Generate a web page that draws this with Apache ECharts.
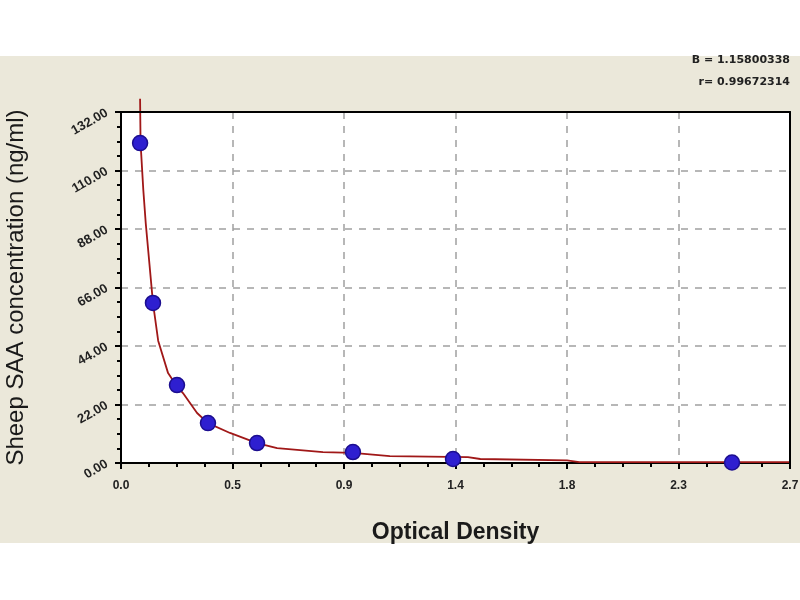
<!DOCTYPE html>
<html>
<head>
<meta charset="utf-8">
<script src="https://cdn.jsdelivr.net/npm/echarts@6/dist/echarts.min.js"></script>
<style>
html,body{margin:0;padding:0;background:#fff;}
#band{position:absolute;left:0;top:56px;width:800px;height:487px;background:#ebe8da;}
#chart{position:absolute;left:0;top:0;width:800px;height:600px;}
</style>
</head>
<body>
<div id="band"></div>
<div id="chart"></div>
<script>
// Standard points (optical density, concentration)
const stdOD = [0.077, 0.129, 0.226, 0.351, 0.549, 0.936, 1.340, 2.466];
const stdConc = [120.3, 60.2, 29.3, 15.0, 7.5, 4.1, 1.5, 0.2];

// Fitted curve
const curveOD = [0.077, 0.079, 0.09, 0.10, 0.129, 0.15, 0.19, 0.226, 0.25, 0.307, 0.351, 0.44, 0.549, 0.63, 0.815, 0.936, 1.085, 1.40, 1.45, 1.80, 1.85, 2.70];
const curveConc = [137, 120.3, 102.7, 90, 60.2, 46, 33.8, 28.8, 26.3, 18.8, 15.0, 11.3, 7.5, 5.6, 4.1, 3.8, 2.6, 2.2, 1.5, 1.0, 0.3, 0.3];

const xTickLabels = ['0.0', '0.5', '0.9', '1.4', '1.8', '2.3', '2.7'];
const yTickLabels = ['0.00', '22.00', '44.00', '66.00', '88.00', '110.00', '132.00'];
const fitText = ['B = 1.15800338', 'r= 0.99672314'];

const chart = echarts.init(document.getElementById('chart'), null, {renderer: 'canvas'});
const font = 'Liberation Sans, Arial, sans-serif';
const wideFont = 'DejaVu Sans, Verdana, sans-serif';

const borderAxis = {
  z: 10,
  axisLine: {show: true, onZero: false, lineStyle: {color: '#000', width: 2}},
  axisTick: {show: false}, axisLabel: {show: false}, splitLine: {show: false}
};

chart.setOption({
  backgroundColor: 'transparent',
  animation: false,
  grid: {left: 121, right: 10, top: 112, bottom: 137, show: true, backgroundColor: '#ffffff', borderWidth: 0, outerBoundsMode: 'none', containLabel: false},
  graphic: [
    {type: 'text', right: 10, top: 55, style: {text: fitText[0], fill: '#222', font: 'bold 11px ' + wideFont, textAlign: 'right'}},
    {type: 'text', right: 10, top: 77, style: {text: fitText[1], fill: '#222', font: 'bold 11px ' + wideFont, textAlign: 'right'}}
  ],
  xAxis: [{
    type: 'value', min: 0, max: 2.7, interval: 0.45,
    name: 'Optical Density', nameLocation: 'middle', nameGap: 58,
    nameTextStyle: {fontFamily: font, fontSize: 23, fontWeight: 'bold', color: '#1a1a1a'},
    axisLine: {show: true, onZero: false, lineStyle: {color: '#000', width: 2}},
    axisTick: {show: true, length: 6, lineStyle: {color: '#000', width: 2}},
    minorTick: {show: true, splitNumber: 4, length: 4, lineStyle: {color: '#000', width: 2}},
    axisLabel: {fontFamily: font, fontSize: 12, color: '#222', fontWeight: 'bold', margin: 17,
      formatter: v => xTickLabels[Math.round(v / 0.45)]},
    splitLine: {show: true, showMinLine: false, showMaxLine: false, lineStyle: {color: '#a0a0a0', type: [7, 7], width: 1.5}}
  }, Object.assign({type: 'value', position: 'top', min: 0, max: 2.7, interval: 0.45}, borderAxis)],
  yAxis: [{
    type: 'value', min: 0, max: 132, interval: 22,
    name: 'Sheep SAA concentration (ng/ml)', nameLocation: 'middle', nameGap: 93,
    nameTextStyle: {fontFamily: font, fontSize: 24, color: '#1a1a1a'},
    axisLine: {show: true, onZero: false, lineStyle: {color: '#000', width: 2}},
    axisTick: {show: true, length: 6, lineStyle: {color: '#000', width: 2}},
    minorTick: {show: true, splitNumber: 4, length: 4, lineStyle: {color: '#000', width: 2}},
    axisLabel: {fontFamily: font, fontSize: 13, fontWeight: 'bold', color: '#222', rotate: 30, margin: 14,
      formatter: v => yTickLabels[Math.round(v / 22)]},
    splitLine: {show: true, showMinLine: false, showMaxLine: false, lineStyle: {color: '#a0a0a0', type: [7, 7], width: 1.5}}
  }, Object.assign({type: 'value', position: 'right', min: 0, max: 132, interval: 22}, borderAxis)],
  series: [
    {
      type: 'line', name: 'fit', clip: false, showSymbol: false, smooth: false,
      data: curveOD.map((x, i) => [x, curveConc[i]]),
      lineStyle: {color: '#a01818', width: 1.8}, z: 3
    },
    {
      type: 'scatter', name: 'std', symbol: 'circle', symbolSize: 15,
      data: stdOD.map((x, i) => [x, stdConc[i]]),
      itemStyle: {color: '#2e1fd0', borderColor: '#1c0e90', borderWidth: 1.5, opacity: 1}, z: 4
    }
  ]
});
</script>
</body>
</html>
